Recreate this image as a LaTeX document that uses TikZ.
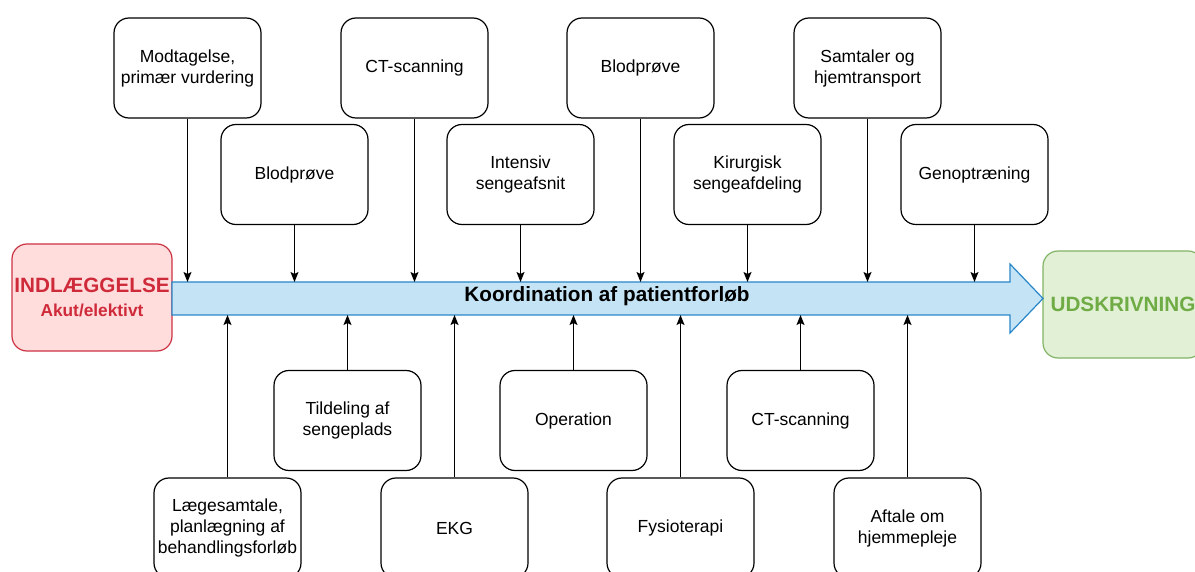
\documentclass[tikz,border=0pt]{standalone}
\usepackage{fontspec}
\setmainfont{Liberation Sans}
\usetikzlibrary{arrows.meta}
\definecolor{redfill}{RGB}{255,221,221}
\definecolor{redline}{RGB}{204,51,68}
\definecolor{redtext}{RGB}{207,42,58}
\definecolor{greenfill}{RGB}{226,240,214}
\definecolor{greenline}{RGB}{130,179,102}
\definecolor{greentext}{RGB}{112,172,70}
\definecolor{bluefill}{RGB}{196,228,246}
\definecolor{blueline}{RGB}{40,135,200}
\tikzset{
  stepbox/.style={draw=black, line width=1.2pt, rounded corners=15pt, fill=white,
    minimum width=147pt, minimum height=100pt, inner sep=0pt, align=center,
    font=\fontsize{17.5pt}{21pt}\selectfont},
  endbox/.style={line width=1.2pt, rounded corners=15pt, inner sep=0pt, align=center,
    minimum width=160pt, minimum height=107pt},
  link/.style={draw=black, line width=1.2pt, -{Stealth[length=10pt,width=8pt,inset=2pt]}}
}
\begin{document}
\begin{tikzpicture}[x=1pt, y=-1pt]
\useasboundingbox (0,0) rectangle (1195,572);

% start and end of the patient pathway
\node[endbox, draw=redline, fill=redfill, text=redtext,
      font=\fontsize{17.3pt}{24pt}\selectfont\bfseries] (ind) at (92,297.5)
  {{\fontsize{20.7pt}{24pt}\selectfont INDLÆGGELSE}\\Akut/elektivt};
\node[endbox, draw=greenline, fill=greenfill, text=greentext,
      font=\fontsize{20.7pt}{24pt}\selectfont\bfseries] (ud) at (1123,304.5)
  {UDSKRIVNING};

% the coordination arrow
\coordinate (tl) at (172,282);
\coordinate (tr) at (1010,282);
\coordinate (bl) at (172,315);
\coordinate (br) at (1010,315);
\coordinate (tip) at (1043,298.5);
\draw[line width=1.2pt, draw=blueline, fill=bluefill, line join=miter]
  (tl) -- (tr) -- (1010,264) -- (tip) -- (1010,333) -- (br) -- (bl) -- cycle;
\node[font=\fontsize{20.7pt}{24pt}\selectfont\bfseries] (koord) at (607,296)
  {Koordination af patientforløb};

% steps above the arrow
\node[stepbox] (modt) at (187.5,68) {Modtagelse,\\primær vurdering};
\node[stepbox] (ct1)  at (414.5,68) {CT-scanning};
\node[stepbox] (blod2) at (640.5,68) {Blodprøve};
\node[stepbox] (samt) at (867.5,68) {Samtaler og\\hjemtransport};
\node[stepbox] (blod1) at (294.5,174.5) {Blodprøve};
\node[stepbox] (int)  at (520.5,174.5) {Intensiv\\sengeafsnit};
\node[stepbox] (kir)  at (747.5,174.5) {Kirurgisk\\sengeafdeling};
\node[stepbox] (geno) at (974.5,174.5) {Genoptræning};

% steps below the arrow
\node[stepbox] (tild) at (347.5,420.5) {Tildeling af\\sengeplads};
\node[stepbox] (oper) at (573.5,420.5) {Operation};
\node[stepbox] (ct2)  at (800.5,420.5) {CT-scanning};
\node[stepbox] (laeg) at (227.5,528) {Lægesamtale,\\planlægning af\\behandlingsforløb};
\node[stepbox] (ekg)  at (454.5,528) {EKG};
\node[stepbox] (fys)  at (680.5,528) {Fysioterapi};
\node[stepbox] (aft)  at (907.5,528) {Aftale om\\hjemmepleje};

% connectors into the arrow
\foreach \n in {modt,ct1,blod2,samt,blod1,int,kir,geno}
  \draw[link] (\n.south) -- (\n.south |- tl);
\foreach \n in {tild,oper,ct2,laeg,ekg,fys,aft}
  \draw[link] (\n.north) -- (\n.north |- bl);
\end{tikzpicture}
\end{document}
